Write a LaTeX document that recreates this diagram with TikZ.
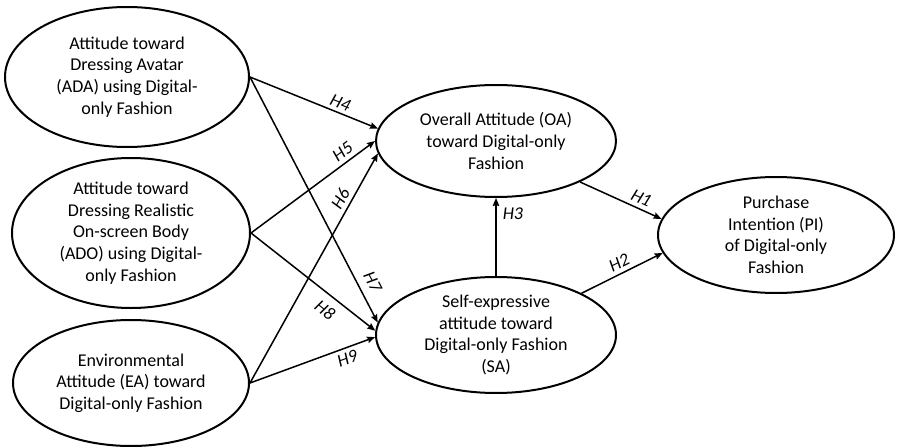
\documentclass[tikz,border=0pt]{standalone}
\usepackage{fontspec}
\setmainfont{Carlito}
\usetikzlibrary{shapes.geometric,arrows.meta}
\begin{document}
\begin{tikzpicture}[x=1pt,y=-1pt,
  construct/.style={ellipse,draw,line width=2pt,inner sep=0pt,align=center,
    font=\fontsize{18}{21.6}\selectfont},
  path/.style={line width=1.5pt,-{Stealth[length=8pt,width=6.5pt,inset=1pt]}},
  hyp/.style={font=\fontsize{18}{21.6}\selectfont\itshape,inner sep=3pt}]
\useasboundingbox (0,0) rectangle (898,447);
\node[construct,minimum width=244,minimum height=140] (ADA) at (127,77)
  {Attitude toward\\Dressing Avatar\\(ADA) using Digital-\\only Fashion};
\node[construct,minimum width=238,minimum height=150] (ADO) at (131,233)
  {Attitude toward\\Dressing Realistic\\On-screen Body\\(ADO) using Digital-\\only Fashion};
\node[construct,minimum width=236,minimum height=126] (EA) at (131,383)
  {Environmental\\Attitude (EA) toward\\Digital-only Fashion};
\node[construct,minimum width=240,minimum height=112] (OA) at (496,141)
  {Overall Attitude (OA)\\toward Digital-only\\Fashion};
\node[construct,minimum width=240,minimum height=116] (SA) at (496,335)
  {Self-expressive\\attitude toward\\Digital-only Fashion\\(SA)};
\node[construct,minimum width=236,minimum height=116] (PI) at (776,235)
  {Purchase\\Intention (PI)\\of Digital-only\\Fashion};

\draw[path] (ADA.east) -- node[hyp,sloped,above,pos=0.68] {H4} (OA.174);
\draw[path] (ADA.east) -- node[hyp,sloped,above,pos=0.86,inner sep=8pt] {H7} (SA.174);
\draw[path] (ADO.east) -- node[hyp,sloped,above,pos=0.79,inner sep=4pt] {H5} (OA.180);
\draw[path] (ADO.east) -- node[hyp,sloped,below,pos=0.67,inner sep=8pt] {H8} (SA.178.5);
\draw[path] (EA.east) -- node[hyp,sloped,above,pos=0.78,inner sep=4pt] {H6} (OA.186.5);
\draw[path] (EA.east) -- node[hyp,sloped,below,pos=0.75,inner sep=4pt] {H9} (SA.181.5);
\draw[path] (SA.north) -- node[hyp,right,pos=0.8,inner sep=6pt] {H3} (OA.south);
\draw[path] (OA.-26) -- node[hyp,sloped,above,pos=0.70,inner sep=4pt] {H1} (PI.172);
\draw[path] (SA.26) -- node[hyp,sloped,above,pos=0.52,inner sep=4pt] {H2} (PI.189);
\end{tikzpicture}
\end{document}
